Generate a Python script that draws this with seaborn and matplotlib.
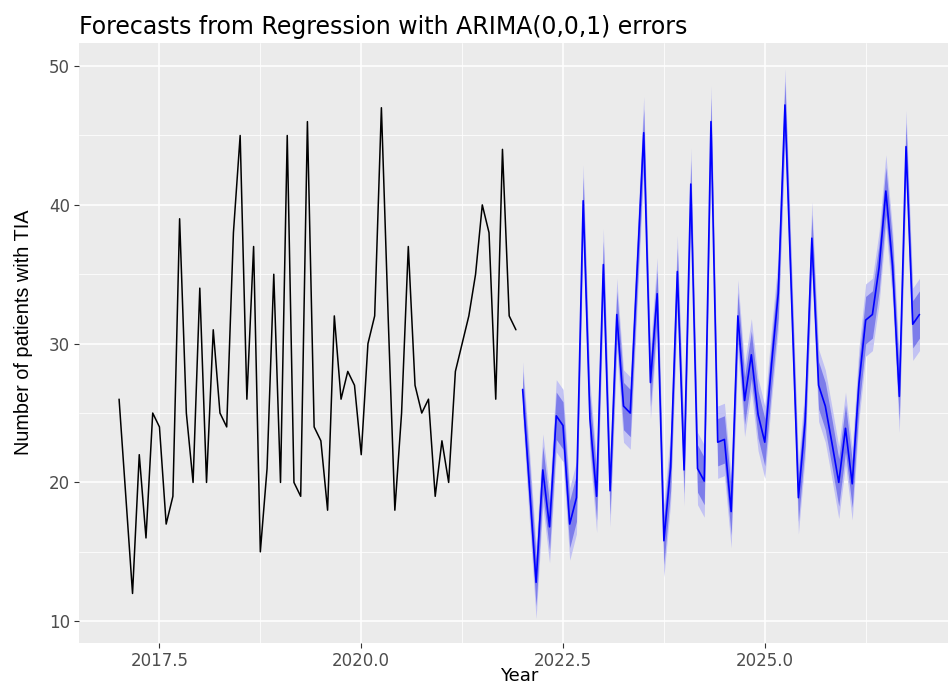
import numpy as np
import pandas as pd
import matplotlib
matplotlib.use("Agg")
import matplotlib.pyplot as plt
from matplotlib.ticker import MultipleLocator, FormatStrFormatter
import seaborn as sns

# observed monthly series (Jan 2017 - Dec 2021)
OBS_START = 2017.0
observed = [26, 19, 12, 22, 16, 25, 24, 17, 19, 39,
            25, 20, 34, 20, 31, 25, 24, 38, 45, 26,
            37, 15, 21, 35, 20, 45, 20, 19, 46, 24,
            23, 18, 32, 26, 28, 27, 22, 30, 32, 47,
            32, 18, 25, 37, 27, 25, 26, 19, 23, 20,
            28, 30, 32, 35, 40, 38, 26, 44, 32, 31]

# point forecasts (Jan 2022 - Dec 2026)
FC_START = 2022.0
forecast = [26.7, 19.8, 12.8, 20.9, 16.8, 24.8, 24.1, 17.0, 18.9, 40.3,
            24.6, 19.0, 35.7, 19.4, 32.1, 25.5, 25.0, 35.1, 45.2, 27.2,
            33.6, 15.8, 21.1, 35.2, 20.9, 41.5, 21.0, 20.1, 46.0, 22.9,
            23.1, 17.9, 32.0, 25.9, 29.2, 24.9, 22.9, 28.5, 33.6, 47.2,
            33.0, 18.9, 24.4, 37.6, 27.0, 25.5, 22.8, 20.0, 23.9, 19.9,
            27.1, 31.7, 32.1, 35.5, 41.0, 35.6, 26.2, 44.2, 31.4, 32.1]

# forecast standard errors
std_err = [1.02, 1.33, 1.33, 1.33, 1.33, 1.33, 1.33, 1.33, 1.33, 1.33,
           1.33, 1.33, 1.33, 1.33, 1.33, 1.33, 1.33, 1.33, 1.33, 1.33,
           1.33, 1.33, 1.33, 1.33, 1.33, 1.33, 1.33, 1.33, 1.33, 1.33,
           1.33, 1.33, 1.33, 1.33, 1.33, 1.33, 1.33, 1.33, 1.33, 1.33,
           1.33, 1.33, 1.33, 1.33, 1.33, 1.33, 1.33, 1.33, 1.33, 1.33,
           1.33, 1.33, 1.33, 1.33, 1.33, 1.33, 1.33, 1.33, 1.33, 1.33]

Z80, Z95 = 1.2816, 1.96

obs_df = pd.DataFrame({"Year": OBS_START + np.arange(len(observed)) / 12,
                       "value": observed})
fc_df = pd.DataFrame({"Year": FC_START + np.arange(len(forecast)) / 12,
                      "mean": forecast, "se": std_err})
fc_df["lo80"] = fc_df["mean"] - Z80 * fc_df["se"]
fc_df["hi80"] = fc_df["mean"] + Z80 * fc_df["se"]
fc_df["lo95"] = fc_df["mean"] - Z95 * fc_df["se"]
fc_df["hi95"] = fc_df["mean"] + Z95 * fc_df["se"]

sns.set_theme(style="darkgrid", rc={
    "axes.facecolor": "#EBEBEB",
    "grid.color": "white",
    "axes.edgecolor": "#EBEBEB",
})
plt.rcParams["font.family"] = ["DejaVu Sans"]

fig = plt.figure(figsize=(9.48, 6.88), dpi=100)
ax = fig.add_axes([0.0833, 0.065, 0.9167, 0.872])

ax.fill_between(fc_df["Year"], fc_df["lo95"], fc_df["hi95"],
                color="#C2C2F3", linewidth=0, zorder=2)
ax.fill_between(fc_df["Year"], fc_df["lo80"], fc_df["hi80"],
                color="#7D7DEA", linewidth=0, zorder=3)
sns.lineplot(data=obs_df, x="Year", y="value", color="black",
             linewidth=1.1, ax=ax, zorder=4)
sns.lineplot(data=fc_df, x="Year", y="mean", color="#0000FF",
             linewidth=1.2, ax=ax, zorder=5)

ax.set_xlim(2016.503, 2027.27)
ax.set_ylim(8.41, 51.64)

ax.xaxis.set_major_locator(MultipleLocator(2.5))
ax.xaxis.set_minor_locator(MultipleLocator(1.25))
ax.xaxis.set_major_formatter(FormatStrFormatter("%.1f"))
ax.yaxis.set_major_locator(MultipleLocator(10))
ax.yaxis.set_minor_locator(MultipleLocator(5))

ax.grid(which="major", color="white", linewidth=1.1)
ax.grid(which="minor", color="white", linewidth=0.55)
ax.tick_params(which="major", length=3.5, width=0.8, color="#333333",
               labelcolor="#4D4D4D", labelsize=12, pad=3,
               bottom=True, left=True)
ax.tick_params(which="minor", length=0)
for s in ax.spines.values():
    s.set_visible(False)

ax.set_title("Forecasts from Regression with ARIMA(0,0,1) errors",
             loc="left", fontsize=17, color="black", pad=7)
ax.set_xlabel("Year", fontsize=13, color="black")
ax.xaxis.set_label_coords(0.507, -0.04)
ax.set_ylabel("Number of patients with TIA", fontsize=14.3, color="black",
              family=["Liberation Sans", "DejaVu Sans"])
ax.yaxis.set_label_coords(-0.0529, 0.519)

fig.savefig("out.png", dpi=100)
